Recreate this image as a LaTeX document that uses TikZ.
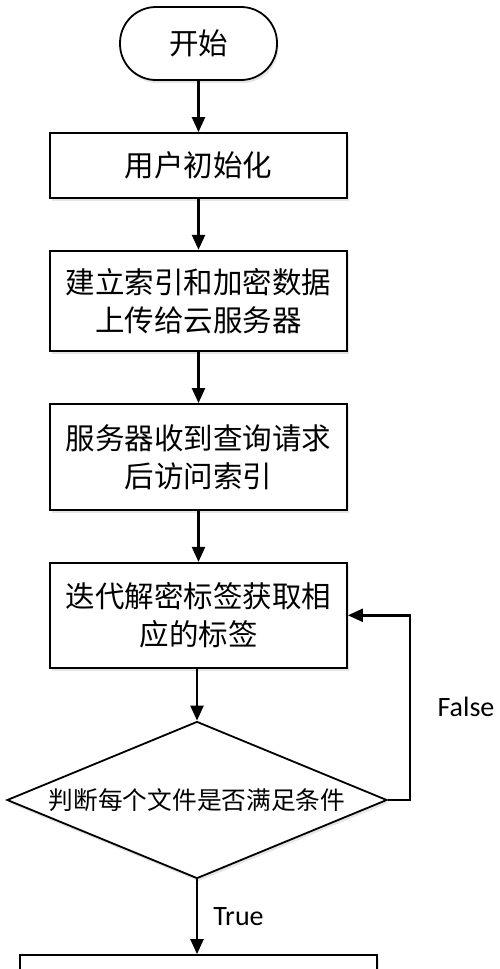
\documentclass[tikz,border=0pt]{standalone}
\usepackage{fontspec}
\setmainfont{Carlito}
\newfontfamily\cjk{Noto Sans CJK SC}
\usetikzlibrary{arrows.meta,shapes.geometric,shadows}
\tikzset{
  boxstyle/.style={draw=black, line width=1.8pt, fill=white, minimum width=297pt, align=center, inner sep=0pt,
    font=\cjk\fontsize{29.5}{38}\selectfont,
    drop shadow={opacity=0.2, shadow xshift=1.5pt, shadow yshift=-3pt}},
  termstyle/.style={boxstyle, minimum width=157pt, minimum height=73pt, rounded corners=36pt, drop shadow={opacity=0}},
  decstyle/.style={draw=black, line width=1.8pt, fill=white, diamond, inner sep=0pt, shape aspect=2.42,
    minimum width=380pt, minimum height=157pt, font=\cjk\fontsize{24.7}{28}\selectfont,
    drop shadow={opacity=0.2, shadow xshift=1.5pt, shadow yshift=-3pt}},
  arr/.style={line width=2.4pt, -{Triangle[width=13pt,length=15pt]}},
  lbl/.style={font=\fontsize{28}{32}\selectfont, inner sep=0pt}
}
\begin{document}
\begin{tikzpicture}[x=1pt,y=-1pt]
\useasboundingbox (0,0) rectangle (500,969);
\clip (0,0) rectangle (500,969);
\fill[white] (0,0) rectangle (500,969);
\node[termstyle] (start) at (198.5,43.5) {开始};
\node[boxstyle, minimum height=65pt] (b1) at (198.5,165.5) {用户初始化};
\node[boxstyle, minimum height=100pt] (b2) at (198.5,300.7) {建立索引和加密数据\\上传给云服务器};
\node[boxstyle, minimum height=106pt] (b3) at (198.5,457) {服务器收到查询请求\\后访问索引};
\node[boxstyle, minimum height=105pt] (b4) at (198.5,615.3) {迭代解密标签获取相\\应的标签};
\node[decstyle] (dia) at (197,800) {判断每个文件是否满足条件};
\node[boxstyle, minimum width=357pt, minimum height=100pt, drop shadow={opacity=0}] (fin) at (198.5,1005) {};
\coordinate (loopx) at (410,0);
\draw[arr] (start) -- (b1);
\draw[arr] (b1) -- (b2);
\draw[arr] (b2) -- (b3);
\draw[arr] (b3) -- (b4);
\draw[arr] (b4.south -| dia.north) -- (dia.north);
\draw[arr] (dia.south) -- (fin.north -| dia.south);
\draw[arr] (dia.east) -- (dia.east -| loopx) |- (b4.east);
\node[lbl] (false) at (466,707) {False};
\node[lbl] (true) at (238.5,917) {True};
\end{tikzpicture}
\end{document}
